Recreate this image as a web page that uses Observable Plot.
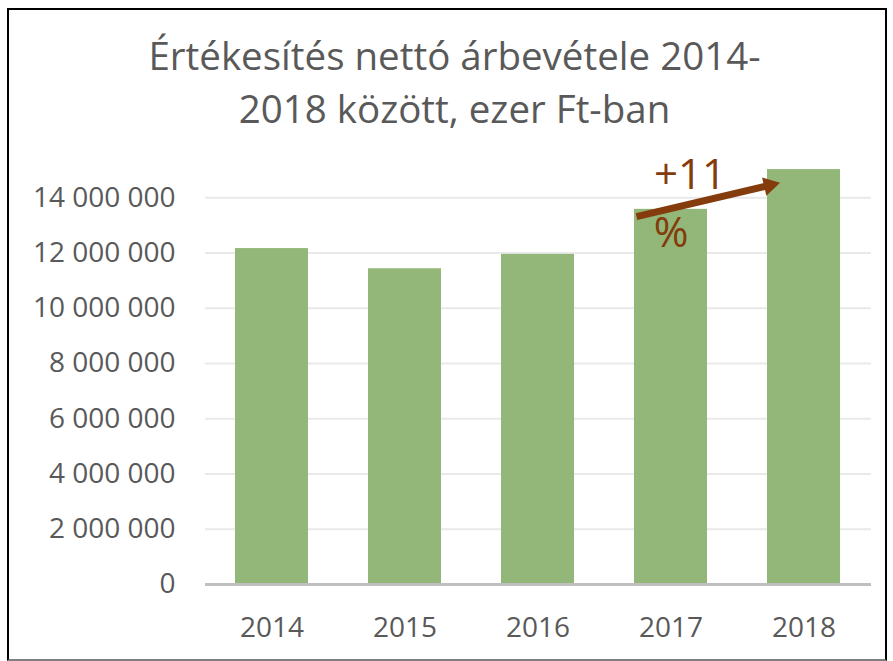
<!DOCTYPE html>
<html>
<head>
<meta charset="utf-8">
<script src="https://cdn.jsdelivr.net/npm/d3@7"></script>
<script src="https://cdn.jsdelivr.net/npm/@observablehq/plot@0.6"></script>
<style>
  html, body { margin: 0; padding: 0; background: #fff; }
  #wrap { position: relative; width: 893px; height: 661px; overflow: hidden; font-family: "Open Sans", sans-serif; }
  #frame { position: absolute; left: 7px; top: 8px; width: 876px; height: 649px; border: 2px solid #000; border-bottom-color: #7f7f7f; box-sizing: content-box; }
  #title { position: absolute; left: 8px; top: 29px; width: 893px; text-align: center; font-size: 38.5px; line-height: 53px; color: #595959; }
  #chart { position: absolute; left: 0; top: 130px; }
</style>
</head>
<body>
<div id="wrap">
  <div id="frame"></div>
  <div id="title">Értékesítés nettó árbevétele 2014-<br>2018 között, ezer Ft-ban</div>
  <div id="chart"></div>
</div>
<script>
const years = ["2014", "2015", "2016", "2017", "2018"];
const revenue = [12160000, 11430000, 11950000, 13580000, 15020000];
const yTicks = [0, 2000000, 4000000, 6000000, 8000000, 10000000, 12000000, 14000000];
const changeLabels = ["+11", "%"];
const changeLabelYears = ["2017", "2017"];
const changeLabelValues = [14810000, 12710000];
const arrowYears = ["2017", "2018"];
const arrowValues = [13320000, 14450000];

const data = years.map((y, i) => ({year: y, value: revenue[i]}));
const labels = changeLabels.map((t, i) => ({text: t, year: changeLabelYears[i], value: changeLabelValues[i]}));
const arrow = [{x1: arrowYears[0], y1: arrowValues[0], x2: arrowYears[1], y2: arrowValues[1]}];

const fmt = d => d3.format(",")(d).replace(/,/g, " ");
const brown = "#843c0c";

const chart = Plot.plot({
  width: 893,
  height: 531,
  marginTop: 12,
  marginBottom: 77,
  marginLeft: 205,
  marginRight: 22,
  style: {fontFamily: "'Open Sans', sans-serif", fontSize: "28px", color: "#595959", background: "transparent"},
  x: {domain: years, paddingInner: 0.45, paddingOuter: 0.225, label: null},
  y: {domain: [0, 16000000], label: null},
  marks: [
    Plot.ruleY(yTicks.filter(d => d > 0), {stroke: "#e9e9e9", strokeWidth: 2}),
    Plot.barY(data, {x: "year", y: "value", fill: "#92b779"}),
    Plot.ruleY([0], {stroke: "#bfbfbf", strokeWidth: 3}),
    Plot.axisY({ticks: yTicks, tickFormat: fmt, tickSize: 0, tickPadding: 30, label: null, fill: "#595959", fontSize: 28}),
    Plot.axisX({tickSize: 0, tickPadding: 33, label: null, fill: "#595959", fontSize: 28}),
    Plot.link(arrow, {x1: "x1", y1: "y1", x2: "x2", y2: "y2", stroke: brown, strokeWidth: 7, dx: -34.5}),
    Plot.dot(arrow, {x: "x2", y: "y2", symbol: "triangle2", r: 9, fill: brown, rotate: 76.8, dx: -34.5}),
    Plot.text(labels.slice(0, 1), {x: "year", y: "value", text: "text", fill: brown, fontSize: 42, dx: 19}),
    Plot.text(labels.slice(1), {x: "year", y: "value", text: "text", fill: brown, fontSize: 42})
  ]
});
document.getElementById("chart").appendChild(chart);
</script>
</body>
</html>
